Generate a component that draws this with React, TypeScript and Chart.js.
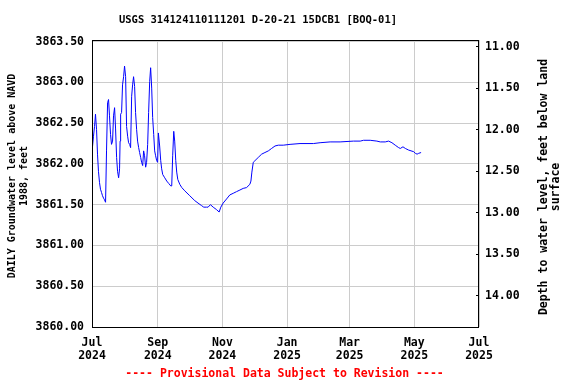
import React, { useEffect, useRef } from "react";
import { Chart, registerables } from "chart.js";

Chart.register(...registerables);

const TITLE = "USGS 314124110111201 D-20-21 15DCB1 [BOQ-01]";
const LEFT_TITLE = ["DAILY Groundwater level above NAVD", "1988, feet"];
const RIGHT_TITLE = ["Depth to water level, feet below land", "surface"];
const NOTE = "---- Provisional Data Subject to Revision ----";

// days since 2024-07-01
const DAYS = [
  0, 0.4, 1.4, 2.4, 3.3, 4.3, 5.2, 6.1, 7.1, 8, 9, 9.9, 10.9, 11.8, 12.8, 13.7,
  14.7, 15.6, 16.5, 17.5, 18.4, 19.4, 20.3, 21.3, 22.2, 23.2, 24.1, 25.1, 26, 26.5,
  27, 27.9, 28.8, 29.8, 30.7, 31.7, 32.6, 33.6, 34.5, 35.5, 36.4, 37.4, 38.3, 39.2,
  40.2, 41.1, 42.1, 43, 44, 44.9, 45.9, 46.8, 47.8, 48.7, 49.6, 50.6, 51.5, 52.5,
  53.4, 54.4, 55.3, 56.3, 57.2, 58.2, 59.1, 60, 61, 61.9, 62.6, 63.8, 64.8, 65.7,
  66.7, 68.6, 70.5, 72.4, 74.3, 75.2, 76.1, 77.1, 78, 79, 79.9, 80.9, 82.8, 84.7,
  87.5, 92.2, 96.9, 100, 103.2, 105.4, 108, 109.5, 111.7, 114.3, 117.4, 119.9,
  121.5, 123.7, 126.9, 130, 133.2, 136.3, 139.5, 142.6, 145.8, 148.9, 149.9, 150.8,
  152.1, 153.7, 156.8, 160, 163.1, 166.3, 169.4, 172.6, 175.7, 180.4, 186.8, 196.2,
  208.8, 215.1, 224.6, 234, 246.6, 253, 256.1, 262.4, 268.7, 271.9, 276.6, 279.7,
  282.9, 286, 289.2, 290.8, 293.3, 295.5, 298.6, 303.4, 305, 306.6, 308.1, 310.4,
];

const LEVELS = [
  3862.02, 3862.2, 3862.34, 3862.46, 3862.61, 3862.42, 3862.12, 3861.91, 3861.77, 3861.69, 3861.65, 3861.61, 3861.58, 3861.56, 3861.53, 3862.16,
  3862.75, 3862.79, 3862.59, 3862.36, 3862.24, 3862.28, 3862.59, 3862.69, 3862.44, 3862.08, 3861.91, 3861.83, 3861.94, 3862.28,
  3862.61, 3862.63, 3862.97, 3863.07, 3863.2, 3863.07, 3862.46, 3862.34, 3862.26, 3862.24, 3862.2, 3862.83, 3862.97, 3863.07,
  3862.95, 3862.63, 3862.42, 3862.28, 3862.2, 3862.14, 3862.08, 3862.02, 3861.98, 3862.16, 3862.1, 3861.96, 3862.02, 3862.24,
  3862.63, 3863.01, 3863.18, 3862.93, 3862.57, 3862.36, 3862.16, 3862.1, 3862.04, 3862.02, 3862.38, 3862.22, 3862.04, 3861.94,
  3861.87, 3861.83, 3861.79, 3861.76, 3861.73, 3861.73, 3862.1, 3862.4, 3862.28, 3862.04, 3861.9, 3861.81, 3861.75, 3861.71,
  3861.67, 3861.61, 3861.55, 3861.52, 3861.49, 3861.47, 3861.47, 3861.47, 3861.5, 3861.47, 3861.44, 3861.41,
  3861.47, 3861.52, 3861.57, 3861.62, 3861.64, 3861.66, 3861.68, 3861.7, 3861.71, 3861.75, 3861.79, 3861.9,
  3862.02, 3862.04, 3862.08, 3862.12, 3862.14, 3862.16, 3862.19, 3862.22, 3862.23, 3862.23, 3862.24, 3862.25,
  3862.25, 3862.26, 3862.27, 3862.27, 3862.28, 3862.28, 3862.29, 3862.29, 3862.28, 3862.27, 3862.27, 3862.28,
  3862.26, 3862.23, 3862.2, 3862.19, 3862.21, 3862.19, 3862.17, 3862.15, 3862.13, 3862.12, 3862.13, 3862.14,
];

const X_TICK_DAYS = [0, 62, 123, 184, 243, 304, 365];
const X_TICK_MONTHS = ["Jul", "Sep", "Nov", "Jan", "Mar", "May", "Jul"];
const X_TICK_YEARS = ["2024", "2024", "2024", "2025", "2025", "2025", "2025"];
const LEFT_TICKS = [3860, 3860.5, 3861, 3861.5, 3862, 3862.5, 3863, 3863.5];
const RIGHT_TICKS = [11, 11.5, 12, 12.5, 13, 13.5, 14];

const FONT = "'DejaVu Sans Mono', 'Liberation Mono', monospace";

const textPlugin = {
  id: "usgsText",
  afterDraw(chart: any) {
    const { ctx, chartArea } = chart;
    const a = chartArea;
    ctx.save();
    // frame
    ctx.strokeStyle = "#000";
    ctx.lineWidth = 1;
    ctx.strokeRect(
      Math.round(a.left) + 0.5,
      Math.round(a.top) + 0.5,
      Math.round(a.right) - Math.round(a.left) - 1,
      Math.round(a.bottom) - Math.round(a.top)
    );
    ctx.fillStyle = "#000";
    ctx.textAlign = "center";
    ctx.textBaseline = "middle";
    // title
    ctx.font = `bold 10.5px ${FONT}`;
    ctx.fillText(TITLE, 258, 20);
    // left title
    ctx.save();
    ctx.translate(0, 176);
    ctx.rotate(-Math.PI / 2);
    ctx.font = `bold 10px ${FONT}`;
    ctx.fillText(LEFT_TITLE[0], 0, 12);
    ctx.fillText(LEFT_TITLE[1], 0, 24);
    ctx.restore();
    // right title
    ctx.save();
    ctx.translate(0, 187);
    ctx.rotate(-Math.PI / 2);
    ctx.font = `bold 11.5px ${FONT}`;
    ctx.fillText(RIGHT_TITLE[0], 0, 544);
    ctx.fillText(RIGHT_TITLE[1], 0, 556);
    ctx.restore();
    // note
    ctx.fillStyle = "#ff0000";
    ctx.font = `bold 11.5px ${FONT}`;
    ctx.fillText(NOTE, 284.5, 374.5);
    ctx.restore();
  },
};

export default function App() {
  const canvasRef = useRef<HTMLCanvasElement | null>(null);

  useEffect(() => {
    document.body.style.margin = "0";
    const canvas = canvasRef.current;
    if (!canvas) return;
    const tickFont = { family: FONT, size: 11.5, weight: "bold" as const, lineHeight: 1.1 };
    const chart = new Chart(canvas, {
      type: "line",
      data: {
        datasets: [
          {
            data: DAYS.map((d, i) => ({ x: d, y: LEVELS[i] })),
            borderColor: "#0000ff",
            borderWidth: 1,
            pointRadius: 0,
            tension: 0,
            fill: false,
            yAxisID: "y",
            xAxisID: "x",
          },
        ],
      },
      options: {
        responsive: false,
        animation: false,
        devicePixelRatio: 1,
        layout: { padding: { top: 40, left: 0, right: 0, bottom: 0 } },
        plugins: {
          legend: { display: false },
          title: { display: false },
          tooltip: { enabled: false },
        },
        scales: {
          x: {
            type: "linear",
            position: "bottom",
            min: 0,
            max: 365,
            afterBuildTicks: (scale: any) => {
              scale.ticks = X_TICK_DAYS.map((v) => ({ value: v }));
            },
            afterFit: (scale: any) => {
              scale.height = 57;
            },
            ticks: {
              autoSkip: false,
              maxRotation: 0,
              padding: 10,
              color: "#000",
              font: tickFont,
              callback: (_v: any, i: number) => [X_TICK_MONTHS[i], X_TICK_YEARS[i]],
            },
            grid: { color: "#cccccc", lineWidth: 1, drawTicks: false },
            border: { display: false },
          },
          y: {
            type: "linear",
            position: "left",
            min: 3860,
            max: 3863.52,
            afterBuildTicks: (scale: any) => {
              scale.ticks = LEFT_TICKS.map((v) => ({ value: v }));
            },
            afterFit: (scale: any) => {
              scale.width = 92;
            },
            ticks: {
              padding: 8,
              color: "#000",
              font: tickFont,
              callback: (v: any) => Number(v).toFixed(2),
            },
            grid: { color: "#cccccc", lineWidth: 1, drawTicks: false },
            border: { display: false },
          },
          y2: {
            type: "linear",
            position: "right",
            reverse: true,
            min: 10.92,
            max: 14.375,
            afterBuildTicks: (scale: any) => {
              scale.ticks = RIGHT_TICKS.map((v) => ({ value: v }));
            },
            afterFit: (scale: any) => {
              scale.width = 97;
            },
            ticks: {
              padding: 9,
              color: "#000",
              font: tickFont,
              callback: (v: any) => Number(v).toFixed(2),
            },
            grid: {
              drawOnChartArea: false,
              drawTicks: true,
              tickLength: -3,
              tickColor: "#000",
            },
            border: { display: false },
          },
        },
      },
      plugins: [textPlugin],
    });
    return () => chart.destroy();
  }, []);

  return (
    <div style={{ width: 576, height: 384, background: "#fff" }}>
      <canvas ref={canvasRef} width={576} height={384} style={{ display: "block" }} />
    </div>
  );
}
